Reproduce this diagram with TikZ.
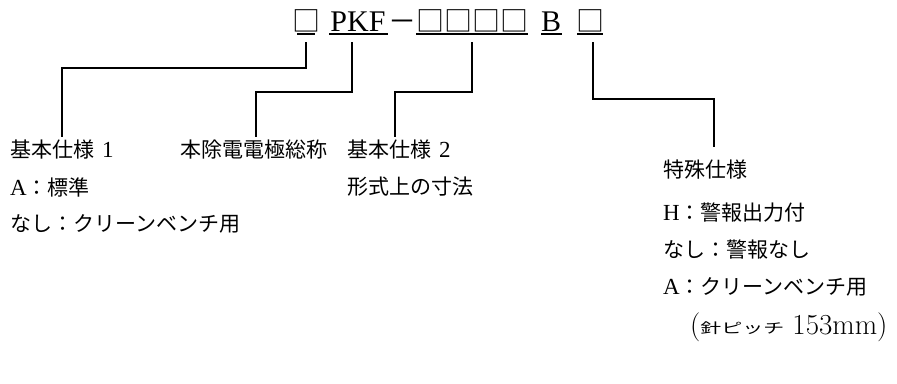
\documentclass[tikz,border=0pt]{standalone}
\usepackage{fontspec}
\newfontfamily\cjk{Noto Sans CJK JP}
\newfontfamily\cjkw[FakeStretch=1.5]{Noto Sans CJK JP}
\newfontfamily\tms{Liberation Serif}
\newcommand{\J}[1]{{\cjk #1}}
\newcommand{\Lt}[1]{{\tms\fontsize{23}{23}\selectfont #1}}
\begin{document}
\begin{tikzpicture}[x=1pt,y=-1pt,
  lbl/.style={anchor=west,inner sep=0pt,font=\fontsize{21}{21}\selectfont},
  ttl/.style={anchor=base,inner sep=0pt,font=\fontsize{30}{30}\selectfont\tms},
  sq/.style={anchor=base,inner sep=0pt,font=\fontsize{28}{28}\selectfont\cjk},
  conn/.style={line width=1.5pt},
  uline/.style={line width=1.6pt}]
\useasboundingbox (0,0) rectangle (897,383);
% title
\node[sq]  (t1) at (306,31) {□};
\node[ttl] (t2) at (358,31) {PKF};
\node[sq]  (t3) at (402,31) {－};
\node[sq]  (t4) at (472,31) {□□□□};
\node[ttl] (t5) at (551,31) {B};
\node[sq]  (t6) at (590,31) {□};
\draw[uline] (297,34) -- (315,34);
\draw[uline] (329,34) -- (388,34);
\draw[uline] (416,34) -- (528,34);
\draw[uline] (541,34) -- (562,34);
\draw[uline] (577,34) -- (603,34);
% labels
\node[lbl] (l1) at (10,150) {\J{基本仕様}\hspace{8pt}\Lt{1}};
\node[lbl] (l1a) at (10,187) {\Lt{A}\J{：標準}};
\node[lbl] (l1b) at (10,224) {\J{なし：クリーンベンチ用}};
\node[lbl] (l2) at (180,150) {\J{本除電電極総称}};
\node[lbl] (l3) at (347,150) {\J{基本仕様}\hspace{8pt}\Lt{2}};
\node[lbl] (l3a) at (347,187) {\J{形式上の寸法}};
\node[lbl] (l4) at (663,170) {\J{特殊仕様}};
\node[lbl] (l4a) at (663,213) {\Lt{H}\J{：警報出力付}};
\node[lbl] (l4b) at (663,250) {\J{なし：警報なし}};
\node[lbl] (l4c) at (663,287) {\Lt{A}\J{：クリーンベンチ用}};
\node[lbl,font=\fontsize{29}{29}\selectfont] (l4d) at (690,327)
  {(\raisebox{1pt}{\cjkw\fontsize{14}{14}\selectfont 針ピッチ}\hspace{8pt}153mm)};
% connector ends
\coordinate (k1) at (306,42); \coordinate (e1) at (62,137);
\coordinate (k2) at (352,42); \coordinate (e2) at (256,137);
\coordinate (k3) at (472,42); \coordinate (e3) at (395,137);
\coordinate (k4) at (593,42); \coordinate (e4) at (714,147);
\draw[conn] (k1) -- (306,68) -| (e1);
\draw[conn] (k2) -- (352,92) -| (e2);
\draw[conn] (k3) -- (472,92) -| (e3);
\draw[conn] (k4) -- (593,99) -| (e4);
\end{tikzpicture}
\end{document}
